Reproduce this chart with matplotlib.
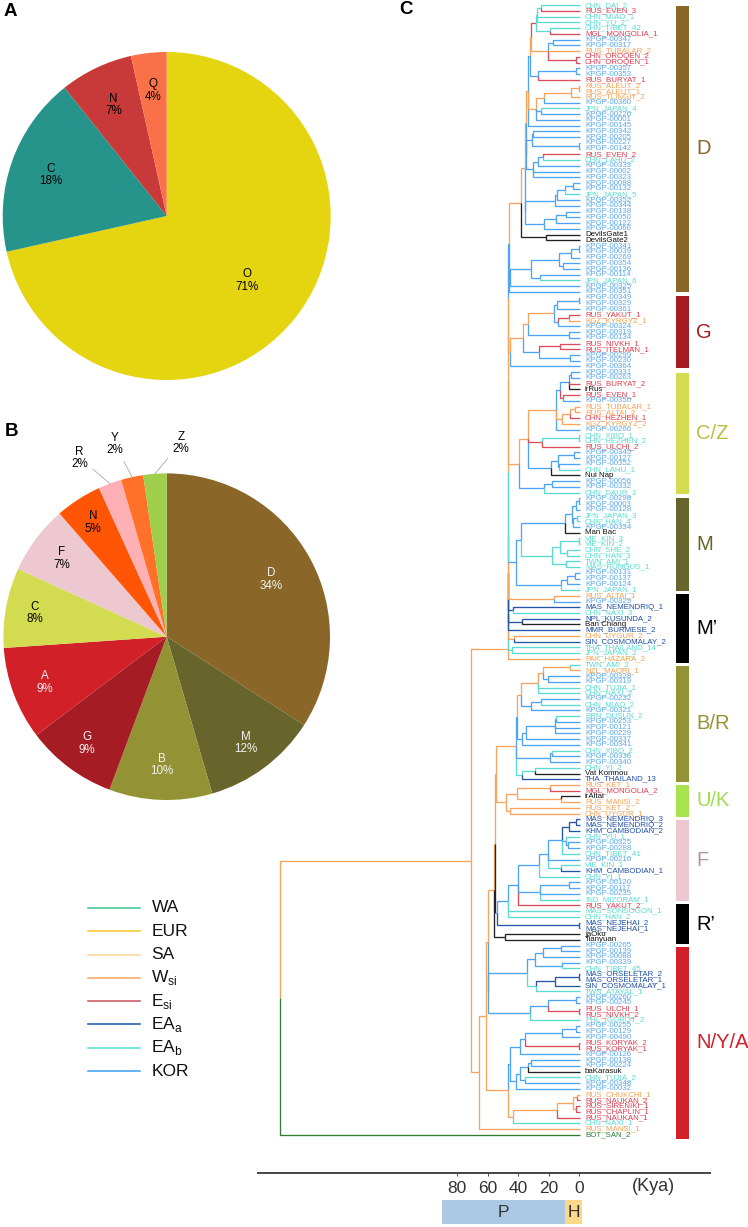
"""Y haplogroup pies and a dated phylogeny, drawn on three sets of axes."""

import matplotlib
matplotlib.use("Agg")
import matplotlib.pyplot as plt
import numpy as np

W, H = 748, 1227

plt.rcParams["font.family"] = ["Liberation Sans", "DejaVu Sans"]
plt.rcParams["mathtext.fontset"] = "custom"
plt.rcParams["mathtext.rm"] = "Liberation Sans"

# ── Pie data ──────────────────────────────────────────────────────────────────
PIE_A_NAMES = ["O", "C", "N", "Q"]
PIE_A_VALUES = [71.5, 17.8, 7.2, 3.5]
PIE_A_TEXT = ["71%", "18%", "7%", "4%"]
PIE_A_COLOURS = ["#E5D510", "#26948A", "#C83A3A", "#FB7147"]
PIE_A_RADII = [0.63, 0.75, 0.75, 0.77]

PIE_B_NAMES = ["D", "M", "B", "G", "A", "C", "F", "N", "R", "Y", "Z"]
PIE_B_VALUES = [34.1, 11.4, 10.2, 9.0, 9.2, 7.9, 6.8, 4.6, 2.3, 2.2, 2.3]
PIE_B_TEXT = ["34%", "12%", "10%", "9%", "9%", "8%", "7%", "5%", "2%", "2%", "2%"]
PIE_B_COLOURS = ["#8A6628", "#67652B", "#939234", "#A51C24", "#D22029",
                 "#D3DC50", "#EDC8D0", "#FF5505", "#FFB0B5", "#FF7029", "#9FCE4A"]
PIE_B_RADII = [0.73, 0.81, 0.785, 0.815, 0.80, 0.82, 0.80, 0.83]
PIE_B_WHITE = ["D", "M", "B", "G", "A"]
PIE_B_OUTER = {"R": (-0.533, 1.094), "Y": (-0.318, 1.180), "Z": (0.087, 1.187)}

# ── Legend ────────────────────────────────────────────────────────────────────
LEGEND_TEXT = ["WA", "EUR", "SA", "W$_{\\mathrm{si}}$", "E$_{\\mathrm{si}}$",
               "EA$_{\\mathrm{a}}$", "EA$_{\\mathrm{b}}$", "KOR"]
LEGEND_COLOURS = ["#3CC48E", "#F8C62C", "#F9D296", "#F4A460", "#C8505A",
                  "#1A52A8", "#55DDD0", "#3C9CF5"]

# ── Tree leaves: name and population group, top to bottom ─────────────────────
LEAF_NAMES = [
    "CHN_DAI_2", "RUS_EVEN_3", "CHN_MIAO_1", "CHN_YU_2", "CHN_TIBET_42", "MGL_MONGOLIA_1",
    "KPGP-00347", "KPGP-00317", "RUS_TUBALAR_2", "CHN_OROQEN_2", "CHN_OROQEN_1",
    "KPGP-00357", "KPGP-00353", "RUS_BURYAT_1", "RUS_ALEUT_2", "RUS_ALEUT_1", "RUS_TLINGIT_2",
    "KPGP-00360", "JPN_JAPAN_4", "KPGP-00220", "KPGP-00001", "KPGP-00145", "KPGP-00342",
    "KPGP-00205", "KPGP-00227", "KPGP-00142", "RUS_EVEN_2", "CHN_LAHU_2", "KPGP-00333",
    "KPGP-00002", "KPGP-00323", "KPGP-00088", "KPGP-00132", "JPN_JAPAN_5", "KPGP-00352",
    "KPGP-00344", "KPGP-00138", "KPGP-00050", "KPGP-00122", "KPGP-00066", "DevilsGate1",
    "DevilsGate2", "KPGP-00341", "KPGP-00039", "KPGP-00269", "KPGP-00354", "KPGP-00136",
    "KPGP-00114", "JPN_JAPAN_6", "KPGP-00325", "KPGP-00351", "KPGP-00349", "KPGP-00329",
    "KPGP-00361", "RUS_YAKUT_1", "KGZ_KYRGYZ_1", "KPGP-00324", "KPGP-00319", "KPGP-00134",
    "RUS_NIVKH_1", "RUS_ITELMAN_1", "KPGP-00299", "KPGP-00230", "KPGP-00364", "KPGP-00331",
    "KPGP-00263", "RUS_BURYAT_2", "irRus", "RUS_EVEN_1", "KPGP-00350", "RUS_TUBALAR_1",
    "RUS_ALTAI_2", "CHN_HEZHEN_1", "KGZ_KYRGYZ_2", "KPGP-00266", "CHN_XIBO_1", "CHN_HEZHEN_2",
    "RUS_ULCHI_2", "KPGP-00345", "KPGP-00127", "KPGP-00352", "CHN_LAHU_1", "Nui Nap",
    "KPGP-00056", "KPGP-00332", "CHN_DAUR_1", "KPGP-00298", "KPGP-00003", "KPGP-00128",
    "JPN_JAPAN_3", "CHN_HAN_4", "KPGP-00334", "Man Bac", "VIE_KIN_3", "VIE_KIN_2", "CHN_SHE_2",
    "CHN_HAN_3", "TWN_AMI_1", "MAS_RUNGUS_1", "KPGP-00131", "KPGP-00137", "KPGP-00124",
    "JPN_JAPAN_1", "RUS_ALTAI_1", "KPGP-00329", "MAS_NEMENDRIQ_1", "CHN_NAXI_3",
    "NPL_KUSUNDA_2", "Ban Chiang", "MMR_BURMESE_2", "CHN_UYGUR_2", "SIN_COSMOMALAY_2",
    "THA_THAILAND_14", "JPN_JAPAN_2", "PAK_HAZARA_2", "TWN_AMI_2", "NZL_MAORI_1", "KPGP-00328",
    "KPGP-00319", "CHN_TUJIA_1", "CHN_NAXI_2", "KPGP-00232", "CHN_MIAO_2", "KPGP-00321",
    "BRN_DUSUN_2", "KPGP-00253", "KPGP-00121", "KPGP-00229", "KPGP-00337", "KPGP-00341",
    "CHN_XIBO_2", "KPGP-00336", "KPGP-00340", "CHN_YI_2", "Vat Komnou", "THA_THAILAND_13",
    "RUS_KET_1", "MGL_MONGOLIA_2", "irAltai", "RUS_MANSI_2", "RUS_KET_2", "CHN_UYGUR_1",
    "MAS_NEMENDRIQ_3", "MAS_NEMENDRIQ_2", "KHM_CAMBODIAN_2", "CHN_YU_1", "KPGP-00325",
    "KPGP-00288", "CHN_TIBET_41", "KPGP-00216", "VIE_KIN_1", "KHM_CAMBODIAN_1", "CHN_YI_1",
    "KPGP-00120", "KPGP-00117", "KPGP-00235", "IND_MIZORAM_1", "RUS_YAKUT_2", "MAS_SONSOGON_1",
    "CHN_HAN_2", "MAS_NEJEHAI_2", "MAS_NEJEHAI_1", "jaOku", "Tianyuan", "KPGP-00265",
    "KPGP-00139", "KPGP-00088", "KPGP-00339", "CHN_TIBET_45", "MAS_ORSELETAR_2",
    "MAS_ORSELETAR_1", "SIN_COSMOMALAY_1", "TWN_ATAYAL_1", "KPGP-00260", "KPGP-00245",
    "RUS_ULCHI_1", "RUS_NIVKH_2", "PHL_IGOROT_2", "KPGP-00255", "KPGP-00129", "KPGP-00490",
    "RUS_KORYAK_2", "RUS_KORYAK_1", "KPGP-00126", "KPGP-00138", "KPGP-00224", "baKarasuk",
    "CHN_TUJIA_2", "KPGP-00348", "KPGP-00032", "RUS_CHUKCHI_1", "RUS_NAUKAN_2",
    "RUS_SIRENIKI_1", "RUS_CHAPLIN_1", "RUS_NAUKAN_1", "CHN_NAXI_1", "RUS_MANSI_1", "BOT_SAN_2",
]
# one letter per leaf, ten to a chunk
LEAF_GROUPS = (
    "TRTTTRKKOR" "RKKROOOKTK" "KKKKKKRTKK" "KKKTKKKKKK" "XXKKKKKKTK"
    "KKKKROKKKR" "RKKKKKRXRK" "OOROKTTRKK" "KTXKKTKKKT" "TKXTTTTTTK"
    "KKTOKNTNXN" "ONTTOTOKKT" "TKTKTKKKKK" "TKKTXNORXO" "OONNNTKKTK"
    "TNTKKKTRTT" "NNXXKKKKTN" "NNTKKRRTKK" "KRRKKKXTKK" "ORRRRTOG"
)

# Edge colours on the tree, by group letter
TREE_COLOURS = {"K": "#4DA3F5", "O": "#F9A35C", "T": "#5ADBD0", "R": "#D94C58",
                "N": "#2355A8", "X": "#222222", "G": "#2E7D32"}
TEXT_COLOURS = {"K": "#5AA8F0", "O": "#F8A050", "T": "#58DCD0", "R": "#DC3C50",
                "N": "#1F4FA5", "X": "#111111", "G": "#2E7D32"}


def n(age, col, *kids):
    return {"age": age, "col": col, "kids": kids}


# ── Tree data: node age in Kya, stem colour, children (ints are leaf indices) ──
# D
d_top = n(28.4, "R", n(27.5, "T", n(24.7, "T", 0, 1), 2, 3), n(18.8, "T", 4, 5))
d_kp = n(20.3, "O", n(17.0, "K", 6, 7), 8, n(2.2, "R", 9, 10))
d_a = n(31.3, "O", d_top, d_kp)
d_b = n(26.9, "K", n(1.7, "K", 11, 12), 13)
d_c = n(31.9, "K", d_a, d_b)
d_d = n(23.0, "O", n(5.0, "O", n(0.3, "O", 14, 15), 16), 17)
d_f = n(28.0, "O", d_d, n(24.7, "K", 18, 19), 20)
d_g = n(33.4, "O", d_c, d_f, 21)
d_h = n(30.9, "K", n(30.2, "K", 22, 23), n(0.3, "K", 24, 25))
d_i = n(30.2, "K", n(26.9, "K", n(23.6, "K", 26, 27), 28), 29, 30)
d_k = n(16.0, "K", n(14.4, "K", n(9.4, "K", n(3.9, "K", 31, 32), 33), 34), 35)
d_m = n(23.2, "K", n(15.3, "K", n(8.7, "K", 36, 37), 38), 39)
clade_d = n(38.0, "O",
            n(35.6, "O", n(35.0, "O", d_g, n(34.5, "K", d_h, d_i)), n(35.3, "K", d_k, d_m)),
            n(21.4, "X", 40, 41))
clade_blue = n(46.0, "K",
               n(45.0, "K",
                 n(31.3, "K",
                   n(13.1, "K", n(5.0, "K", n(0.3, "K", 42, 43), 44), n(10.5, "K", 45, 46)),
                   n(25.8, "K", 47, 48)),
                 49),
               50)
# G
g_a = n(16.6, "O", n(14.4, "K", n(0.3, "K", 51, 52), 53), n(13.8, "K", n(6.6, "R", 54, 55), 56))
g_b = n(33.4, "O", g_a, n(6.6, "K", 57, 58), )
g_c = n(26.5, "K", n(12.7, "R", 59, 60), n(5.7, "K", 61, 62))
clade_g = n(45.0, "O", n(36.7, "O", g_b, g_c), 63)
# C/Z
c_a = n(14.9, "O",
        n(12.7, "K", n(6.6, "K", n(5.0, "K", 64, 65), 66, 67), n(10.5, "R", 68, 69)),
        n(10.9, "O", n(6.1, "O", n(2.8, "O", 70, 71), 72), 73),
        74)
c_b = n(24.3, "R", n(0.3, "T", 75, 76), 77)
c_c = n(18.6, "K", n(13.8, "K", n(3.3, "K", 78, 79), n(13.1, "K", 80, 81)), 82)
c_e = n(23.0, "K", n(17.5, "K", 83, 84), 85)
clade_c = n(39.3, "O", n(33.4, "O", c_a, c_b, c_c), c_e)
# M
m_a = n(9.0, "K",
        n(4.5, "K", n(1.7, "K", n(0.3, "K", 86, 87), 88), n(4.0, "K", n(1.0, "K", 89, 90), 91)),
        92)
m_b = n(17.5, "T", n(12.7, "T", n(0.3, "T", 93, 94), n(8.0, "T", 95, 96)), n(8.7, "T", 97, 98))
m_d = n(11.6, "K", n(7.9, "K", n(2.8, "K", 99, 100), 101), 102)
clade_m = n(46.5, "T", n(41.1, "K", n(37.8, "K", m_a, m_b), m_d))
# M'
mp_1 = n(16.6, "O", 103, 104)
mp_2 = n(43.3, "N", 105, 106)
mp_3 = n(37.2, "N", 107, 108)
mp_4 = n(42.8, "O", 110, 111)
mp_5 = n(44.2, "T", 112, 113)
# B/R
br_1 = n(23.6, "O", n(5.7, "O", 115, 116), n(20.3, "K", 117, 118))
br_2 = n(26.9, "O", br_1, 119, 120)
br_3 = n(31.3, "K", n(24.7, "K", 121, 122), 123)
br_4 = n(37.8, "O", br_2, br_3)
br_5 = n(37.2, "K", n(34.5, "K", n(16.0, "K", n(14.9, "K", 124, 125), 126, 127), 128), 129)
br_6 = n(18.8, "K", n(17.5, "K", 130, 131), 132)
br_7 = n(37.2, "T", n(28.6, "T", 133, 134), 135)
clade_br = n(41.0, "O", n(40.7, "K", br_4, br_5), br_6, br_7)
# U/K
clade_uk = n(47.7, "O",
             n(40.7, "O", n(18.8, "O", 136, 137), n(11.6, "O", 138, 139)),
             n(45.1, "O", 140, 141))
# F
f_a = n(6.6, "N", n(1.7, "N", 142, 143), 144)
f_c = n(11.0, "K", f_a, n(8.3, "K", 145, n(7.2, "K", 146, 147)), 148)
f_d = n(20.3, "K", f_c, 149, n(11.6, "T", 150, 151))
f_e = n(26.2, "K", f_d, 152)
f_f = n(25.4, "K", n(6.6, "K", 153, 154), 155, 156)
f_g = n(40.0, "K", f_e, f_f, 157)
f_h = n(46.6, "K", f_g, 158, 159)
clade_f = n(55.2, "X", n(53.8, "K", f_h, n(0.2, "N", 160, 161)))
# N/Y/A
ny_1 = n(23.6, "K", n(11.6, "K", 164, 165), 166)
ny_2 = n(29.1, "K", ny_1, n(10.9, "K", 167, 168))
ny_3 = n(28.4, "T", n(16.0, "N", n(0.3, "N", 169, 170), 171), 172)
ny_5 = n(20.3, "K", n(1.7, "K", 173, 174), n(0.3, "R", 175, 176))
ny_a = n(59.7, "K", n(33.9, "K", ny_2, ny_3), n(32.4, "K", ny_5, 177))
ny_b = n(35.6, "K", n(10.9, "K", n(1.7, "K", 178, 179), 180), n(0.3, "R", 181, 182))
ny_c = n(38.5, "K", ny_b, 183)
ny_d = n(33.4, "K", n(31.3, "K", 184, 185), 186)
ny_f = n(38.9, "K", ny_d, n(35.6, "K", 187, 188))
ny_h = n(45.0, "K", ny_c, n(41.1, "K", ny_f, 189))
ny_i = n(14.2, "O", n(3.9, "O", n(1.2, "O", 190, 191), n(2.0, "O", 192, 193)), 194)
ny_k = n(46.6, "O", ny_h, n(43.3, "O", ny_i, 195))

# Backbone of the upper tree: each step joins the next clade, top to bottom
SPINE_CLADES = [clade_blue, clade_g, clade_c, clade_m, mp_1, mp_2, mp_3, 109, mp_4, mp_5, 114]
SPINE_COLS = ["K", "O", "O", "O", "T", "N", "N", "N", "T", "T", "O"]
SPINE_AGES = [46.2, 46.3, 46.4, 46.5, 46.6, 46.6, 46.7, 46.7, 46.7, 46.8, 46.8]

spine = clade_d
for clade, col, age in zip(SPINE_CLADES, SPINE_COLS, SPINE_AGES):
    spine = n(age, col, spine, clade)

upper_mid = n(54.4, "O", clade_br, clade_uk)
ancient = n(48.7, "X", 162, 163)
middle = n(56.0, "O", n(55.0, "O", upper_mid, clade_f), ancient)
lower = n(61.2, "O", n(59.8, "O", middle, ny_a), ny_k)
tree_root = n(196.0, "O", n(71.0, "O", spine, n(65.8, "O", lower, 196)), 197)

# ── Clade bars at the right ───────────────────────────────────────────────────
CLADE_NAMES = ["D", "G", "C/Z", "M", "M’", "B/R", "U/K", "F", "R’", "N/Y/A"]
CLADE_TOP = [0.07, 50.7, 64.1, 85.9, 102.7, 115.2, 136.0, 142.1, 156.8, 164.3]
CLADE_BOTTOM = [50.0, 63.3, 85.2, 102.2, 114.7, 135.4, 141.5, 156.3, 163.8, 197.7]
CLADE_COLOURS = ["#8A6628", "#A51C24", "#D3DC50", "#67652B", "#000000",
                 "#939234", "#A8E34F", "#EDC8D0", "#000000", "#D22029"]
CLADE_TEXT = ["#8A6628", "#A51C24", "#B7BF3E", "#67652B", "#000000",
              "#939234", "#A0DC50", "#B5959B", "#000000", "#D22029"]

# ── Time axis ─────────────────────────────────────────────────────────────────
TIME_TICKS = [0, 20, 40, 60, 80]
EPOCH_NAMES = ["P", "H"]
EPOCH_OLD = [89.6, 9.2]
EPOCH_YOUNG = [9.2, -2.1]
EPOCH_COLOURS = ["#ABC8E4", "#FBD88A"]


def px_axes(fig, left, top, width, height):
    return fig.add_axes([left / W, 1 - (top + height) / H, width / W, height / H])


def draw_pie(ax, values, colours, names, text, radii, text_colour):
    wedges, _ = ax.pie(values, colors=colours, startangle=90, counterclock=False, radius=1,
                       wedgeprops={"linewidth": 0})
    for wedge in wedges:
        wedge.set_clip_on(False)
    ax.set_xlim(-1, 1)
    ax.set_ylim(-1, 1)
    ax.axis("off")
    for wedge, name, pct, r in zip(wedges, names, text, radii):
        mid = np.deg2rad((wedge.theta1 + wedge.theta2) / 2)
        ax.text(r * np.cos(mid), r * np.sin(mid), f"{name}\n{pct}", ha="center", va="center",
                fontsize=8.4, linespacing=1.05, color=text_colour(name))
    return wedges


def place_nodes(node):
    if isinstance(node, int):
        return float(node)
    child_y = [place_nodes(k) for k in node["kids"]]
    node["y"] = (child_y[0] + child_y[-1]) / 2
    node["child_y"] = child_y
    return node["y"]


def draw_node(ax, node):
    # farthest child first, so the nearer stems stay on top on the shared vertical
    order = sorted(zip(node["kids"], node["child_y"]), key=lambda p: -abs(p[1] - node["y"]))
    for kid, y in order:
        if isinstance(kid, int):
            age, col = -0.6, LEAF_GROUPS[kid]
        else:
            age, col = kid["age"], kid["col"]
        ax.plot([node["age"], node["age"], age], [node["y"], y, y], color=TREE_COLOURS[col],
                lw=0.95, solid_joinstyle="miter", solid_capstyle="butt")
    for kid, _ in order:
        if not isinstance(kid, int):
            draw_node(ax, kid)


fig = plt.figure(figsize=(W / 100, H / 100), dpi=100)

# ── A and B ───────────────────────────────────────────────────────────────────
ax_a = px_axes(fig, 2.7, 52, 328, 328)
draw_pie(ax_a, PIE_A_VALUES, PIE_A_COLOURS, PIE_A_NAMES, PIE_A_TEXT, PIE_A_RADII, lambda _: "black")

ax_b = px_axes(fig, 3.4, 473.4, 326.6, 326.6)
wedges_b = draw_pie(ax_b, PIE_B_VALUES, PIE_B_COLOURS, PIE_B_NAMES[:8], PIE_B_TEXT[:8], PIE_B_RADII,
                    lambda name: "#F2F2F2" if name in PIE_B_WHITE else "black")
for wedge, name, pct in zip(wedges_b[8:], PIE_B_NAMES[8:], PIE_B_TEXT[8:]):
    mid = np.deg2rad((wedge.theta1 + wedge.theta2) / 2)
    ax_b.annotate(f"{name}\n{pct}", xy=(np.cos(mid), np.sin(mid)), xytext=PIE_B_OUTER[name],
                  ha="center", va="center", fontsize=8.4, linespacing=1.05,
                  arrowprops={"arrowstyle": "-", "color": "#A8A8A8", "lw": 0.6,
                              "shrinkA": 2, "shrinkB": 0}, annotation_clip=False)

# ── Legend ────────────────────────────────────────────────────────────────────
ax_leg = px_axes(fig, 88, 908, 52, 163)
for i, (label, col) in enumerate(zip(LEGEND_TEXT, LEGEND_COLOURS)):
    ax_leg.plot([0, 1], [i, i], color=col, lw=1.1, clip_on=False)
    ax_leg.text(1.22, i, label, fontsize=12.5, va="center", ha="left", color="#111111")
ax_leg.set_xlim(0, 1)
ax_leg.set_ylim(7, 0)
ax_leg.axis("off")

# ── C ───────────────────────────────────────────────────────────────────────
ax = px_axes(fig, 258, 0, 452, 1172.7)
ax.patch.set_visible(False)
ax.set_xlim((579 - 258) / 1.525, (579 - 710) / 1.525)
ax.set_ylim((1172.7 - 5.3) / 5.733, -5.3 / 5.733)
place_nodes(tree_root)
draw_node(ax, tree_root)

for i, (name, group) in enumerate(zip(LEAF_NAMES, LEAF_GROUPS)):
    ax.text(-3.9, i, name, fontsize=5.7, ha="left", va="center", color=TEXT_COLOURS[group])

for name, top, bottom, col, tcol in zip(CLADE_NAMES, CLADE_TOP, CLADE_BOTTOM, CLADE_COLOURS, CLADE_TEXT):
    ax.bar(-68.0, bottom - top, bottom=top, width=8.5, color=col, linewidth=0)
    ax.text(-77.0, (top + bottom) / 2, name, fontsize=14.5, color=tcol, ha="left", va="center")

for spine_side in ["top", "left", "right"]:
    ax.spines[spine_side].set_visible(False)
ax.spines["bottom"].set_linewidth(1.4)
ax.spines["bottom"].set_color("#444444")
ax.set_xticks(TIME_TICKS)
ax.set_yticks([])
ax.tick_params(axis="x", length=2.5, width=0.7, color="#444444", pad=3.5, labelsize=12.5,
               labelcolor="#333333")
ax.text(-49.0, 206.1, "(Kya)", fontsize=13, ha="center", va="center", color="#333333")

for name, old, young, col in zip(EPOCH_NAMES, EPOCH_OLD, EPOCH_YOUNG, EPOCH_COLOURS):
    ax.barh(210.5, old - young, height=4.07, left=young, color=col, linewidth=0, clip_on=False)
    ax.text((old + young) / 2, 210.5, name, fontsize=12.5, ha="center", va="center", color="#333333")

# ── Panel letters ─────────────────────────────────────────────────────────────
for letter, x_px, y_px in [("A", 4, 11), ("B", 5, 431), ("C", 399, 10)]:
    fig.text(x_px / W, 1 - y_px / H, letter, fontsize=13.5, fontweight="bold", va="center", ha="left")

fig.savefig("out.png", dpi=100)
plt.close(fig)
